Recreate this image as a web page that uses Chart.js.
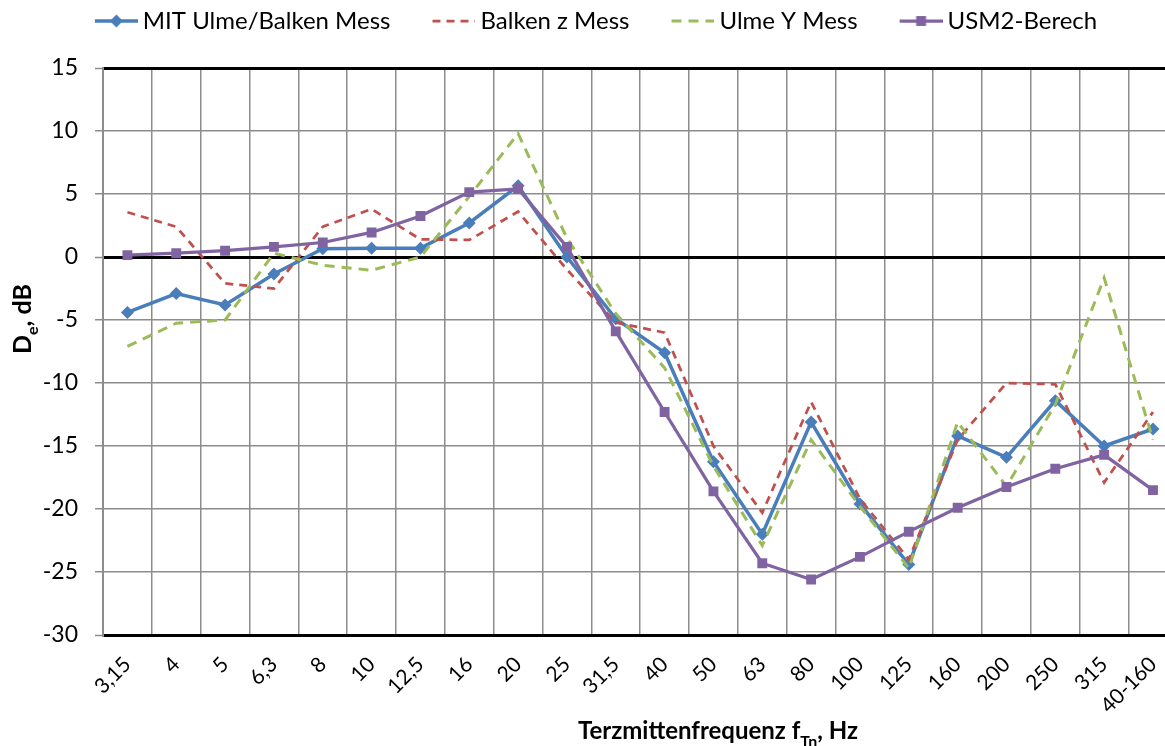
<!DOCTYPE html>
<html>
<head>
<meta charset="utf-8">
<script src="https://cdn.jsdelivr.net/npm/chart.js@4.4.1/dist/chart.umd.min.js"></script>
<style>
  html, body { margin: 0; padding: 0; background: #ffffff; overflow: hidden; }
  #wrap { width: 1188px; height: 746px; }
</style>
</head>
<body>
<div id="wrap"><canvas id="c" width="1188" height="746"></canvas></div>
<script>
// ---- data ----
const categories = ['3,15','4','5','6,3','8','10','12,5','16','20','25','31,5','40','50','63','80','100','125','160','200','250','315','40-160'];
const mitUlmeBalken = [-4.4, -2.9, -3.8, -1.35, 0.65, 0.7, 0.7, 2.7, 5.65, 0.0, -4.9, -7.6, -16.25, -22.0, -13.1, -19.6, -24.4, -14.2, -15.9, -11.4, -15.0, -13.65];
const balkenZ = [3.55, 2.4, -2.1, -2.5, 2.4, 3.8, 1.4, 1.35, 3.6, -1.0, -5.2, -6.0, -15.0, -20.3, -11.5, -19.2, -24.0, -14.5, -10.0, -10.1, -17.9, -12.3];
const ulmeY = [-7.1, -5.25, -5.0, 0.3, -0.65, -1.05, 0.0, 4.8, 9.8, 1.5, -4.5, -8.8, -16.6, -22.9, -14.5, -19.8, -24.7, -13.1, -18.2, -11.7, -1.65, -14.5];
const usm2 = [0.15, 0.3, 0.5, 0.8, 1.15, 1.95, 3.25, 5.15, 5.4, 0.8, -5.9, -12.3, -18.6, -24.3, -25.6, -23.8, -21.8, -19.9, -18.25, -16.8, -15.7, -18.5];
const seriesNames = ['MIT Ulme/Balken Mess', 'Balken z Mess', 'Ulme Y Mess', 'USM2-Berech'];
const yTicks = [15, 10, 5, 0, -5, -10, -15, -20, -25, -30];

const FONT = 'Lato, "Open Sans", sans-serif';
const LEG_BOX = 69;          // legend box slot width
const LEG_IMG = LEG_BOX + 14; // icon image width (icon drawn at its right end)
const LEG_SHIFT = -10;       // horizontal legend shift

function makeIcon(ds) {
  const c = document.createElement('canvas');
  c.width = LEG_IMG; c.height = 16;
  const g = c.getContext('2d');
  const x0 = LEG_IMG - 43, x1 = LEG_IMG, cx = (x0 + x1) / 2;
  g.strokeStyle = ds.borderColor;
  g.lineWidth = ds.borderWidth;
  g.setLineDash(ds.borderDash || []);
  g.beginPath(); g.moveTo(x0, 8); g.lineTo(x1, 8); g.stroke();
  g.setLineDash([]);
  g.fillStyle = ds.pointBackgroundColor || ds.borderColor;
  if (ds.pointRadius > 0 && ds.pointStyle === 'rectRot') {
    const r = ds.pointRadius;
    g.beginPath(); g.moveTo(cx, 8 - r); g.lineTo(cx + r, 8); g.lineTo(cx, 8 + r); g.lineTo(cx - r, 8); g.closePath(); g.fill();
  } else if (ds.pointRadius > 0 && ds.pointStyle === 'rect') {
    const s = ds.pointRadius * Math.SQRT1_2;
    g.fillRect(cx - s, 8 - s, 2 * s, 2 * s);
  }
  return c;
}

const fixedLayout = {
  id: 'fixedLayout',
  beforeInit(chart) {
    const lg = chart.legend;
    if (lg) {
      const orig = lg.fit;
      lg.fit = function () { orig.call(this); this.height = 68; };
    }
  },
  beforeDraw(chart) {
    const lg = chart.legend;
    if (lg && !lg._shifted) {
      lg.left += LEG_SHIFT; lg.right += LEG_SHIFT; lg._shifted = true;
    }
  },
  afterLayout(chart) {
    if (chart.legend) chart.legend._shifted = false;
  }
};

function drawRich(ctx, parts, cx, cy, rot, size) {
  ctx.save();
  ctx.translate(cx, cy);
  ctx.rotate(rot);
  ctx.fillStyle = '#000';
  ctx.textBaseline = 'alphabetic';
  let total = 0;
  parts.forEach(p => {
    ctx.font = 'bold ' + (p.sub ? Math.round(size * 0.65) : size) + 'px ' + FONT;
    p.w = ctx.measureText(p.t).width;
    total += p.w;
  });
  let x = -total / 2;
  parts.forEach(p => {
    ctx.font = 'bold ' + (p.sub ? Math.round(size * 0.65) : size) + 'px ' + FONT;
    ctx.fillText(p.t, x, size * 0.35 + (p.sub ? size * 0.3 : 0));
    x += p.w;
  });
  ctx.restore();
}

const axisTitles = {
  id: 'axisTitles',
  afterDraw(chart) {
    const ctx = chart.ctx;
    drawRich(ctx, [{t: 'D'}, {t: 'e', sub: true}, {t: ', dB'}], 22, 319, -Math.PI / 2, 25);
    drawRich(ctx, [{t: 'Terzmittenfrequenz f'}, {t: 'Tn', sub: true}, {t: ', Hz'}], 718, 731, 0, 24);
  }
};

const GRID = '#8c8c8c';
const isBold = v => v === 0 || v === 15 || v === -30;

const datasets = [
  { label: seriesNames[0], data: mitUlmeBalken, borderColor: '#4a7ebb', backgroundColor: '#4a7ebb', pointBackgroundColor: '#4a7ebb', pointBorderColor: '#4a7ebb',
    borderWidth: 3.5, pointStyle: 'rectRot', pointRadius: 6.5, pointBorderWidth: 0, order: 4 },
  { label: seriesNames[1], data: balkenZ, borderColor: '#c0504d', backgroundColor: '#c0504d',
    borderWidth: 2.75, borderDash: [8, 6], pointRadius: 0, order: 3 },
  { label: seriesNames[2], data: ulmeY, borderColor: '#9bbb59', backgroundColor: '#9bbb59',
    borderWidth: 3, borderDash: [10, 7], pointRadius: 0, order: 2 },
  { label: seriesNames[3], data: usm2, borderColor: '#8064a2', backgroundColor: '#8064a2', pointBackgroundColor: '#8064a2', pointBorderColor: '#8064a2',
    borderWidth: 3.25, pointStyle: 'rect', pointRadius: 7, pointBorderWidth: 0, order: 1 }
];

new Chart(document.getElementById('c'), {
  type: 'line',
  data: { labels: categories, datasets: datasets },
  plugins: [fixedLayout, axisTitles],
  options: {
    responsive: false,
    animation: false,
    devicePixelRatio: 1,
    layout: { padding: { left: 0, right: 9, top: 0, bottom: 0 } },
    elements: { line: { tension: 0 } },
    plugins: {
      tooltip: { enabled: false },
      legend: {
        position: 'top',
        align: 'center',
        labels: {
          color: '#000',
          font: { family: FONT, size: 24 },
          usePointStyle: true,
          pointStyleWidth: LEG_BOX,
          padding: 9,
          generateLabels(chart) {
            return chart.data.datasets.map((ds, i) => ({
              text: ds.label,
              pointStyle: makeIcon(ds),
              fillStyle: ds.borderColor,
              strokeStyle: ds.borderColor,
              lineWidth: 0,
              hidden: false,
              datasetIndex: i,
              fontColor: '#000'
            }));
          }
        }
      }
    },
    scales: {
      x: {
        type: 'category',
        offset: true,
        grid: { offset: true, color: GRID, lineWidth: 1.5, drawTicks: false },
        border: { color: '#000', width: 3 },
        ticks: {
          color: '#000',
          font: { family: FONT, size: 21 },
          maxRotation: 45, minRotation: 45, autoSkip: false, padding: 17
        },
        afterFit(s) { s.height = 111; }
      },
      y: {
        min: -30, max: 15,
        afterBuildTicks(s) { s.ticks = yTicks.map(v => ({ value: v })); },
        grid: {
          color: c => (c.tick && isBold(c.tick.value)) ? '#000' : GRID,
          lineWidth: c => (c.tick && isBold(c.tick.value)) ? 3 : 1.5,
          tickColor: GRID, tickLength: 8, tickWidth: 1.5
        },
        border: { color: GRID, width: 2 },
        ticks: {
          color: '#000',
          font: { family: FONT, size: 23 },
          padding: 17
        },
        afterFit(s) { s.width = 103; }
      }
    }
  }
});
</script>
</body>
</html>
